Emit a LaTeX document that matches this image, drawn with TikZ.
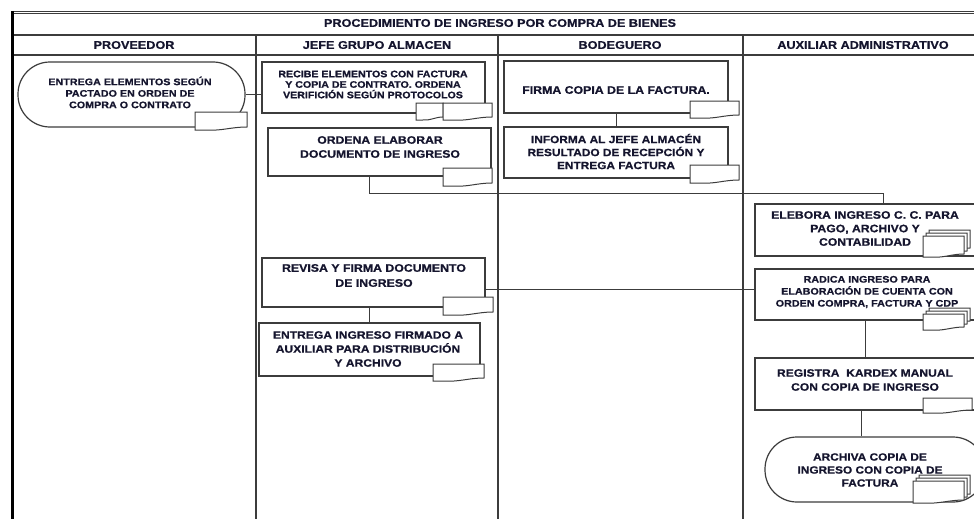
\documentclass[tikz,border=0pt]{standalone}
\usepackage{fontspec}
\setmainfont{Liberation Sans}
\newfontfamily\bfx[FakeStretch=1.13,FakeBold=0.8]{Liberation Sans Bold}
\definecolor{txtc}{HTML}{15152E}
\definecolor{linec}{HTML}{3C3C3C}
\newcommand\fsz[2]{\fontsize{#1}{#2}\selectfont}
% document symbol: x1 y1 x2 y2 (pixel coords, y down)
\newcommand\docsym[4]{%
  \draw[docst] (#1,#2) -- (#3,#2) -- (#3,{#4-3})
    .. controls ({#3-0.3*(#3-#1)},{#4-3}) and ({#1+0.5*(#3-#1)},{#4+1}) ..
    ({#1+0.25*(#3-#1)},#4) -- (#1,#4) -- cycle;}
\newcommand\multidoc[4]{%
  \docsym{#1+6}{#2}{#3}{#4-6}%
  \docsym{#1+3}{#2+3}{#3-3}{#4-3}%
  \docsym{#1}{#2+6}{#3-6}{#4}}
\begin{document}
\begin{tikzpicture}[x=1pt,y=-1pt,
  tline/.style={draw=linec, line width=1.2pt},
  box/.style={draw=linec, line width=1.2pt, fill=white, inner sep=0pt},
  term/.style={box, rounded corners=32pt},
  docst/.style={draw=linec, line width=1pt, fill=white},
  conn/.style={draw=linec, line width=1pt},
  txt/.style={text=txtc, align=center, inner sep=0pt},
  hdr/.style={txt, font=\bfx\fsz{11.2}{13}}]
\useasboundingbox (0,0) rectangle (974,519);
\clip (0,0) rectangle (974,519);
\fill[white] (0,0) rectangle (974,519);
% table
\draw[tline, line width=1.4pt] (11,11.5) -- (990,11.5);
\draw[tline, line width=0.8pt] (11,13.8) -- (990,13.8);
\draw[tline] (12,35) -- (990,35);
\draw[tline] (12,55) -- (990,55);
\draw[black, line width=3pt] (12.5,11) -- (12.5,519);
\draw[tline] (256,35) -- (256,519);
\draw[tline] (498,35) -- (498,519);
\draw[tline] (743,35) -- (743,519);
\node[hdr] (title) at (500,23) {PROCEDIMIENTO DE INGRESO POR COMPRA DE BIENES};
\node[hdr] (h1) at (134,45) {PROVEEDOR};
\node[hdr] (h2) at (377,45) {JEFE GRUPO ALMACEN};
\node[hdr] (h3) at (620,45) {BODEGUERO};
\node[hdr] (h4) at (863,45) {AUXILIAR ADMINISTRATIVO};
% shapes
\node[term, minimum width=227pt, minimum height=65pt] (prov) at (131.5,94.5) {};
\node[box, minimum width=223pt, minimum height=51pt] (recibe) at (373.5,87.5) {};
\node[box, minimum width=223pt, minimum height=48pt] (ordena) at (379.5,152) {};
\node[box, minimum width=224pt, minimum height=52pt] (firma) at (616,87) {};
\node[box, minimum width=224pt, minimum height=51pt] (informa) at (616,152.5) {};
\node[box, minimum width=220pt, minimum height=52pt] (elebora) at (865,230) {};
\node[box, minimum width=220pt, minimum height=51pt] (radica) at (865,294.5) {};
\node[box, minimum width=223pt, minimum height=49pt] (revisa) at (373.5,282.5) {};
\node[box, minimum width=221pt, minimum height=53pt] (entrega) at (369.5,349.5) {};
\node[box, minimum width=220pt, minimum height=52pt] (registra) at (865,384) {};
\node[term, minimum width=220pt, minimum height=65pt] (archiva) at (875,469.5) {};
% connectors
\draw[conn] (prov.east) -- (prov.east -| recibe.west);
\draw[conn] ([xshift=-10.5pt]ordena.south) -- ++(0,17) -| ([xshift=18pt]elebora.north);
\draw[conn] (firma.south) -- (informa.north);
\draw[conn] ([yshift=-6.5pt]revisa.east) -- ([yshift=-6.5pt]revisa.east -| radica.west);
\draw[conn] (revisa.south -| entrega.north) -- (entrega.north);
\draw[conn] (radica.south) -- (registra.north);
\draw[conn] ([xshift=-4pt]registra.south) -- ([xshift=-4pt]registra.south |- archiva.north);
% document symbols
\docsym{195}{112}{247}{130}
\docsym{416}{103}{443}{120}
\docsym{443}{103}{492}{120}
\docsym{443}{168}{492}{186}
\docsym{690}{101}{739}{118}
\docsym{690}{165}{739}{183}
\docsym{443}{297}{493}{315}
\docsym{433}{364}{484}{381}
\docsym{923}{398}{972}{413}
\multidoc{923}{230}{970}{257}
\multidoc{923}{308}{970}{330}
\multidoc{913}{475}{970}{503}
% texts
\node[txt, font=\bfx\fsz{9.5}{11.5}] (provT) at (130,92.5) {ENTREGA ELEMENTOS SEGÚN\\PACTADO EN ORDEN DE\\COMPRA O CONTRATO};
\node[txt, font=\bfx\fsz{9.4}{10.5}] (recibeT) at (373,84.5) {RECIBE ELEMENTOS CON FACTURA\\Y COPIA DE CONTRATO. ORDENA\\VERIFICIÓN SEGÚN PROTOCOLOS};
\node[txt, font=\bfx\fsz{10.8}{14}] (ordenaT) at (380,147) {ORDENA ELABORAR\\DOCUMENTO DE INGRESO};
\node[txt, font=\bfx\fsz{10.9}{13}] (firmaT) at (616,90) {FIRMA COPIA DE LA FACTURA.};
\node[txt, font=\bfx\fsz{10.5}{13}] (informaT) at (616,151.5) {INFORMA AL JEFE ALMACÉN\\RESULTADO DE RECEPCIÓN Y\\ENTREGA FACTURA};
\node[txt, font=\bfx\fsz{10.8}{13.5}] (eleboraT) at (865,228.5) {ELEBORA INGRESO C. C. PARA\\PAGO, ARCHIVO Y\\CONTABILIDAD};
\node[txt, font=\bfx\fsz{9.5}{12}] (radicaT) at (867,292) {RADICA INGRESO PARA\\ELABORACIÓN DE CUENTA CON\\ORDEN COMPRA, FACTURA Y CDP};
\node[txt, font=\bfx\fsz{10.9}{15}] (revisaT) at (374,275.5) {REVISA Y FIRMA DOCUMENTO\\DE INGRESO};
\node[txt, font=\bfx\fsz{10.7}{14}] (entregaT) at (368,349) {ENTREGA INGRESO FIRMADO A\\AUXILIAR PARA DISTRIBUCIÓN\\Y ARCHIVO};
\node[txt, font=\bfx\fsz{10.7}{14}] (registraT) at (865,380) {REGISTRA\ \ KARDEX MANUAL\\CON COPIA DE INGRESO};
\node[txt, font=\bfx\fsz{10.5}{13}] (archivaT) at (870,470) {ARCHIVA COPIA DE\\INGRESO CON COPIA DE\\FACTURA};
\end{tikzpicture}
\end{document}
